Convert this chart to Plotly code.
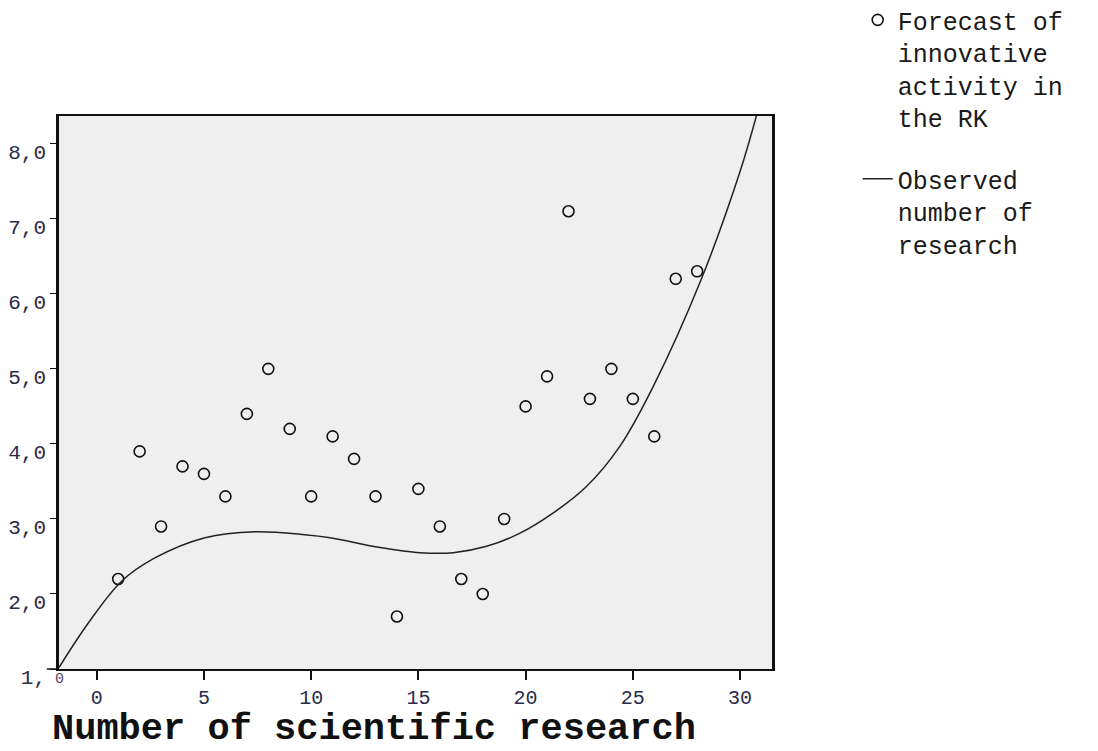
import plotly.graph_objects as go

# Observed points (x = index of scientific research, y = forecast of innovative activity)
obs_x = list(range(1, 29))
obs_y = [2.2, 3.9, 2.9, 3.7, 3.6, 3.3, 4.4, 5.0, 4.2, 3.3,
         4.1, 3.8, 3.3, 1.7, 3.4, 2.9, 2.2, 2.0, 3.0, 4.5,
         4.9, 7.1, 4.6, 5.0, 4.6, 4.1, 6.2, 6.3]

# Fitted curve
curve_x = [-1.76, -0.40, 1.16, 2.71, 5.05, 7.38, 9.71, 10.88, 13.21, 15.07,
           16.63, 18.18, 19.74, 21.29, 22.85, 24.40, 25.96, 28.20, 30.00, 30.78]
curve_y = [1.02, 1.61, 2.17, 2.48, 2.75, 2.83, 2.79, 2.75, 2.62, 2.55,
           2.55, 2.635, 2.81, 3.08, 3.435, 3.97, 4.77, 6.20, 7.63, 8.39]

x_tick_vals = [0, 5, 10, 15, 20, 25, 30]
x_tick_text = ["0", "5", "10", "15", "20", "25", "30"]
y_tick_vals = [1, 2, 3, 4, 5, 6, 7, 8]
y_tick_text = ["1,", "2,0", "3,0", "4,0", "5,0", "6,0", "7,0", "8,0"]

MONO = "Courier New, Liberation Mono, monospace"

fig = go.Figure()
fig.add_trace(go.Scatter(
    x=obs_x, y=obs_y, mode="markers",
    name="Forecast of<br>innovative<br>activity in<br>the RK",
    legendgroup="a",
    marker=dict(symbol="circle-open", size=11, color="#111",
                line=dict(width=1.6, color="#111")),
))
fig.add_trace(go.Scatter(
    x=curve_x, y=curve_y, mode="lines",
    name="Observed<br>number of<br>research",
    legendgroup="b",
    line=dict(color="#222", width=1.5, shape="spline", smoothing=1.0),
))

fig.update_layout(
    width=1098, height=751,
    margin=dict(l=51, r=334, t=108, b=90, autoexpand=False),
    paper_bgcolor="white",
    plot_bgcolor="#efefef",
    font=dict(family=MONO, color="#1a1a1a"),
    showlegend=True,
    legend=dict(
        x=1.1202, xanchor="left", y=1.215, yanchor="top",
        font=dict(family=MONO, size=25, color="#1a1a1a"),
        valign="top", traceorder="grouped", tracegroupgap=26,
        bgcolor="rgba(0,0,0,0)",
    ),
    xaxis=dict(
        range=[-1.76, 31.49], showgrid=False, zeroline=False,
        tickmode="array", tickvals=x_tick_vals, ticktext=x_tick_text,
        ticks="outside", ticklen=9, tickwidth=1.5, tickcolor="#111",
        tickfont=dict(family=MONO, size=20, color="#2a2a4a"),
        showline=True, linecolor="#111", linewidth=1.5, mirror=True,
    ),
    yaxis=dict(
        range=[1.0, 8.37], showgrid=False, zeroline=False,
        tickmode="array", tickvals=y_tick_vals, ticktext=y_tick_text,
        ticks="outside", ticklen=6, tickwidth=1.2, tickcolor="#111",
        tickfont=dict(family=MONO, size=21, color="#2a2a4a"),
        ticklabelshift=8, ticklabelstandoff=0,
        showline=True, linecolor="#111", linewidth=2.5, mirror=True,
    ),
    annotations=[
        dict(text="<b>Number of scientific research</b>", xref="paper", yref="paper",
             x=-0.0124, y=-0.1085, xanchor="left", yanchor="middle", showarrow=False,
             font=dict(family=MONO, size=37, color="#111")),
        dict(text="0", xref="paper", yref="paper", x=0.0, y=0.0,
             xanchor="center", yanchor="top", showarrow=False,
             font=dict(family=MONO, size=15, color="#5a3a6a")),
    ],
    shapes=[
        dict(type="line", xref="paper", yref="paper", x0=-0.017, x1=0.0, y0=0, y1=0,
             line=dict(color="#111", width=1.5)),
    ],
)

fig.write_html("out.html")
